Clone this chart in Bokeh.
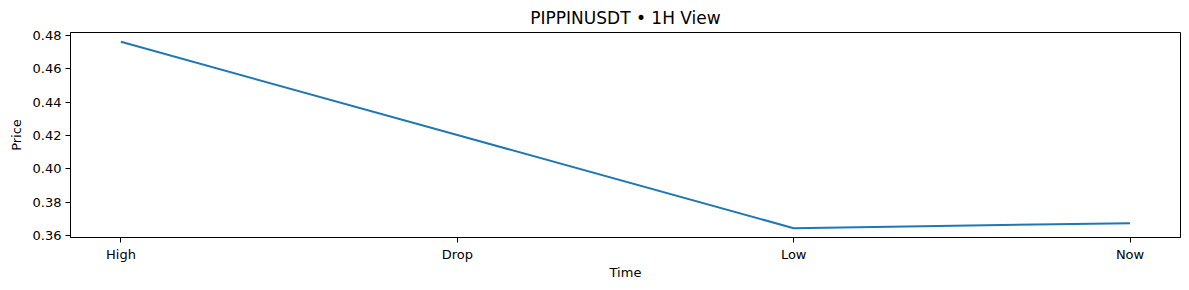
from bokeh.plotting import figure
from bokeh.models import FixedTicker, Range1d, NumeralTickFormatter
from bokeh.embed import file_html
from bokeh.resources import INLINE

categories = ["High", "Drop", "Low", "Now"]
prices = [0.476, 0.4203, 0.3646, 0.3676]
y_ticks = [0.36, 0.38, 0.40, 0.42, 0.44, 0.46, 0.48]

xs = list(range(len(categories)))
span = max(prices) - min(prices)
pad = span * 0.05
xpad = (len(categories) - 1) * 0.05

p = figure(width=1189, height=290, output_backend="svg", toolbar_location=None,
           x_range=Range1d(-xpad, len(categories) - 1 + xpad),
           y_range=Range1d(min(prices) - pad, max(prices) + pad),
           title="PIPPINUSDT • 1H View",
           min_border_left=70, min_border_right=9, min_border_top=12, min_border_bottom=53)

p.line(xs, prices, line_color="#1f77b4", line_width=2)

p.title.align = "center"
p.title.text_font = "DejaVu Sans"
p.title.text_font_size = "17px"
p.title.text_font_style = "normal"
p.title.text_color = "black"

p.xgrid.visible = False
p.ygrid.visible = False
p.outline_line_color = "black"
p.outline_line_alpha = 1
p.outline_line_width = 1

p.xaxis.ticker = FixedTicker(ticks=xs)
p.xaxis.major_label_overrides = {i: c for i, c in enumerate(categories)}
p.yaxis.ticker = FixedTicker(ticks=y_ticks)
p.yaxis.formatter = NumeralTickFormatter(format="0.00")
p.xaxis.axis_label = "Time"
p.yaxis.axis_label = "Price"

for ax in (p.xaxis[0], p.yaxis[0]):
    ax.major_label_text_font = "DejaVu Sans"
    ax.major_label_text_font_size = "13px"
    ax.major_label_text_color = "black"
    ax.axis_label_text_font = "DejaVu Sans"
    ax.axis_label_text_font_size = "13px"
    ax.axis_label_text_font_style = "normal"
    ax.axis_label_text_color = "black"
    ax.axis_line_color = "black"
    ax.major_tick_line_color = "black"
    ax.major_tick_out = 5
    ax.major_tick_in = 0
    ax.minor_tick_line_color = None
    ax.major_label_standoff = 4
    ax.axis_label_standoff = 6

p.xaxis.axis_label_standoff = 0
p.yaxis.major_label_orientation = "horizontal"

open("out.html", "w").write(file_html(p, INLINE))
